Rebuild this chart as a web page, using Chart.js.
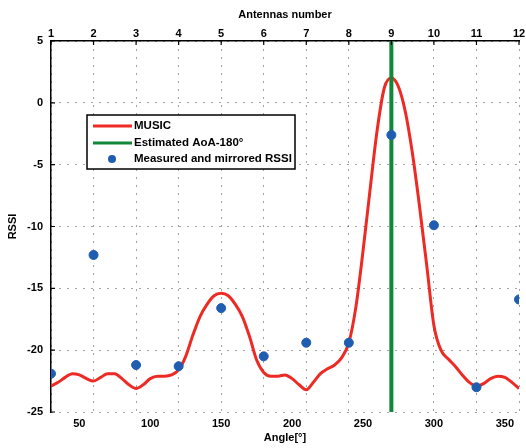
<!DOCTYPE html>
<html>
<head>
<meta charset="utf-8">
<script src="https://cdn.jsdelivr.net/npm/chart.js@4.4.1/dist/chart.umd.min.js"></script>
<style>
  html, body { margin: 0; padding: 0; background: #fff; }
  #wrap { width: 526px; height: 448px; }
</style>
</head>
<body>
<div id="wrap"><canvas id="rssiChart" width="526" height="448"></canvas></div>
<script>
// MUSIC spectrum (degrees / dB)
const musicAngles = [30, 35, 40, 45, 50, 55, 60, 65, 70, 75, 80, 85, 90, 95, 100, 105, 110, 115,
    120, 125, 130, 135, 140, 145, 150, 155, 160, 165, 170, 175, 180, 185, 190, 195, 200, 205,
    210, 215, 220, 225, 230, 235, 240, 245, 250, 255, 260, 265, 270, 275, 280, 285, 290, 295,
    300, 305, 310, 315, 320, 325, 330, 335, 340, 345, 350, 355, 360];
const musicValues = [-22.9, -22.6, -22.2, -21.9, -22.0, -22.3, -22.5, -22.2, -21.9, -21.9, -22.3, -22.8,
    -23.1, -22.8, -22.3, -22.1, -22.1, -22.0, -21.6, -20.5, -18.8, -17.3, -16.3, -15.6, -15.4, -15.6,
    -16.3, -17.3, -18.9, -20.8, -21.8, -22.1, -22.1, -22.0, -22.3, -22.8, -23.2, -22.6, -21.9, -21.5,
    -21.2, -20.6, -19.4, -16.5, -12.0, -7.0, -2.2, 1.2, 2.0, 1.3, -0.8, -4.2, -8.5, -13.2,
    -18.0, -20.0, -20.7, -21.3, -22.0, -22.6, -22.9, -22.7, -22.3, -22.1, -22.2, -22.6, -23.1];

// measured (and mirrored) RSSI, one per antenna
const measuredAngles = [30, 60, 90, 120, 150, 180, 210, 240, 270, 300, 330, 360];
const measuredRssi = [-21.9, -12.3, -21.2, -21.3, -16.6, -20.5, -19.4, -19.4, -2.6, -9.9, -23.0, -15.9];

// estimated angle of arrival
const aoaAngle = 270;
const rssiRange = [-25, 5];

// tick labels
const angleTicks = [50, 100, 150, 200, 250, 300, 350];
const antennaTicks = [1, 2, 3, 4, 5, 6, 7, 8, 9, 10, 11, 12];
const rssiTicks = [-25, -20, -15, -10, -5, 0, 5];

const legendLabels = ['MUSIC', 'Estimated AoA-180°', 'Measured and mirrored RSSI'];

const FONT = "'Liberation Sans', Arial, sans-serif";
const RED = '#ee2a24';
const GREEN = '#12873a';
const BLUE = '#1f5db0';

const tickFont = { family: FONT, size: 11, weight: 'bold' };

// legend box drawn inside the plot, matlab style
const boxLegend = {
    id: 'boxLegend',
    afterDatasetsDraw(chart) {
        const ctx = chart.ctx;
        const x = 87, y = 115, w = 208, h = 54;
        ctx.save();
        ctx.fillStyle = '#fff';
        ctx.fillRect(x, y, w, h);
        ctx.strokeStyle = '#000';
        ctx.lineWidth = 1.5;
        ctx.strokeRect(x, y, w, h);

        const rows = [y + 11, y + 28, y + 44];
        ctx.lineWidth = 3;
        ctx.strokeStyle = RED;
        ctx.beginPath(); ctx.moveTo(93, rows[0]); ctx.lineTo(132, rows[0]); ctx.stroke();
        ctx.strokeStyle = GREEN;
        ctx.beginPath(); ctx.moveTo(93, rows[1]); ctx.lineTo(132, rows[1]); ctx.stroke();
        ctx.fillStyle = BLUE;
        ctx.beginPath(); ctx.arc(112, rows[2], 4, 0, Math.PI * 2); ctx.fill();

        ctx.fillStyle = '#000';
        ctx.font = 'bold 11.5px ' + FONT;
        ctx.textBaseline = 'middle';
        ctx.textAlign = 'left';
        legendLabels.forEach((t, i) => ctx.fillText(t, 134, rows[i]));
        ctx.restore();
    }
};

// small inward tick marks on top and left axes
const innerTicks = {
    id: 'innerTicks',
    afterDraw(chart) {
        const ctx = chart.ctx;
        const area = chart.chartArea;
        const top = chart.scales.x2;
        const left = chart.scales.y;
        ctx.save();
        ctx.strokeStyle = '#000';
        ctx.lineWidth = 1.2;
        ctx.beginPath();
        top.ticks.forEach(t => {
            const px = top.getPixelForValue(t.value);
            ctx.moveTo(px, area.top);
            ctx.lineTo(px, area.top + 4);
        });
        left.ticks.forEach(t => {
            const py = left.getPixelForValue(t.value);
            ctx.moveTo(area.left, py);
            ctx.lineTo(area.left + 4, py);
        });
        ctx.stroke();
        ctx.restore();
    }
};

const ctx = document.getElementById('rssiChart').getContext('2d');
new Chart(ctx, {
    type: 'scatter',
    data: {
        datasets: [
            {
                label: legendLabels[2],
                data: measuredAngles.map((a, i) => ({ x: a, y: measuredRssi[i] })),
                backgroundColor: BLUE,
                borderColor: BLUE,
                pointRadius: 4.5,
                pointHoverRadius: 4.5,
                order: 0
            },
            {
                label: legendLabels[1],
                data: rssiRange.map(v => ({ x: aoaAngle, y: v })),
                showLine: true,
                borderColor: GREEN,
                borderWidth: 4,
                pointRadius: 0,
                order: 1
            },
            {
                label: legendLabels[0],
                data: musicAngles.map((a, i) => ({ x: a, y: musicValues[i] })),
                showLine: true,
                borderColor: RED,
                borderWidth: 3,
                pointRadius: 0,
                cubicInterpolationMode: 'monotone',
                order: 2
            }
        ]
    },
    options: {
        responsive: false,
        animation: false,
        layout: { padding: { left: 0, right: 7, top: 0, bottom: 0 } },
        plugins: {
            legend: { display: false },
            tooltip: { enabled: false }
        },
        scales: {
            x: {
                type: 'linear',
                position: 'bottom',
                min: 30,
                max: 360,
                afterBuildTicks: s => { s.ticks = angleTicks.map(v => ({ value: v })); },
                afterFit: s => { s.height = 36; s.paddingLeft = 0; s.paddingRight = 0; },
                border: { display: false },
                grid: { display: false, drawTicks: false },
                ticks: {
                    autoSkip: false,
                    maxRotation: 0,
                    padding: 5,
                    color: '#000',
                    font: tickFont
                },
                title: {
                    display: true,
                    text: 'Angle[°]',
                    color: '#000',
                    padding: { top: 0, bottom: 3 },
                    font: tickFont
                }
            },
            x2: {
                type: 'linear',
                position: 'top',
                min: 1,
                max: 12,
                afterBuildTicks: s => { s.ticks = antennaTicks.map(v => ({ value: v })); },
                afterFit: s => { s.height = 41; s.paddingLeft = 0; s.paddingRight = 0; },
                border: { display: true, color: '#000', width: 1.5, dash: [1, 7] },
                grid: { color: '#444', lineWidth: 1, drawTicks: false },
                ticks: {
                    autoSkip: false,
                    maxRotation: 0,
                    padding: 0,
                    color: '#000',
                    font: tickFont
                },
                title: {
                    display: true,
                    text: 'Antennas number',
                    color: '#000',
                    padding: { top: 8, bottom: 4 },
                    font: tickFont
                }
            },
            y: {
                type: 'linear',
                min: -25,
                max: 5,
                afterBuildTicks: s => { s.ticks = rssiTicks.map(v => ({ value: v })); },
                afterFit: s => { s.width = 51; },
                border: { display: true, color: '#000', width: 1.5, dash: [1, 7] },
                grid: { color: '#444', lineWidth: 1, drawTicks: false },
                ticks: {
                    padding: 8,
                    color: '#000',
                    font: tickFont
                },
                title: {
                    display: true,
                    text: 'RSSI',
                    color: '#000',
                    padding: { top: 6, bottom: 0 },
                    font: tickFont
                }
            }
        }
    },
    plugins: [boxLegend, innerTicks]
});
</script>
</body>
</html>
